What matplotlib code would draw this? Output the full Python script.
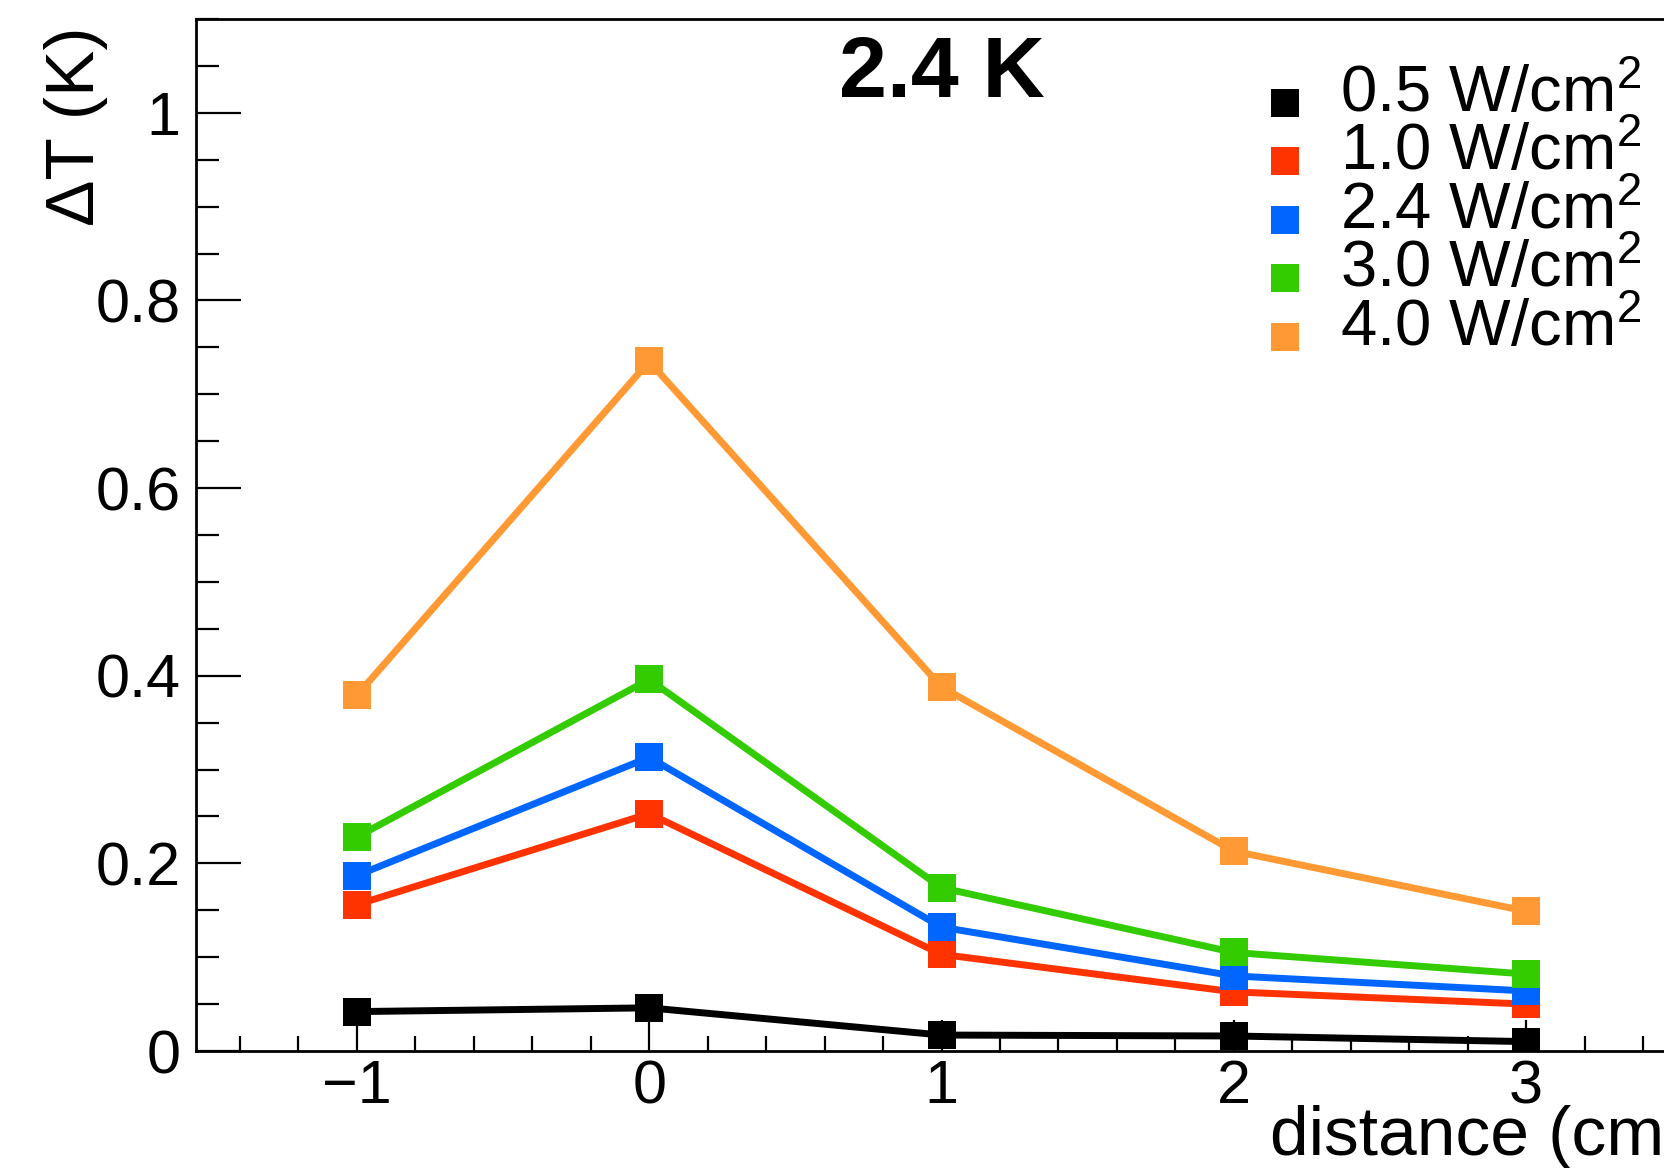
import numpy as np
import matplotlib.pyplot as plt
from matplotlib.lines import Line2D
from matplotlib.legend_handler import HandlerLine2D
from matplotlib.ticker import MultipleLocator, FuncFormatter

plt.rcParams['font.family'] = ['Liberation Sans', 'DejaVu Sans']
plt.rcParams['mathtext.fontset'] = 'custom'
plt.rcParams['mathtext.rm'] = 'Liberation Sans'
plt.rcParams['mathtext.it'] = 'Liberation Sans'

# data
distance = [-1, 0, 1, 2, 3]
labels = ['0.5 W/cm$^2$', '1.0 W/cm$^2$', '2.4 W/cm$^2$', '3.0 W/cm$^2$', '4.0 W/cm$^2$']
colors = ['#000000', '#ff3300', '#0066ff', '#33cc00', '#ff9933']
dT_05 = [0.042, 0.046, 0.017, 0.016, 0.010]
dT_10 = [0.156, 0.253, 0.103, 0.063, 0.050]
dT_24 = [0.187, 0.313, 0.132, 0.080, 0.064]
dT_30 = [0.228, 0.396, 0.174, 0.105, 0.082]
dT_40 = [0.379, 0.735, 0.388, 0.213, 0.149]
series = [dT_05, dT_10, dT_24, dT_30, dT_40]


class LowMarkerHandler(HandlerLine2D):
    # ROOT's legend puts the marker a little below the text centre
    def create_artists(self, legend, orig_handle, xdescent, ydescent,
                       width, height, fontsize, trans):
        arts = super().create_artists(legend, orig_handle, xdescent, ydescent,
                                      width, height, fontsize, trans)
        for a in arts:
            a.set_ydata(np.asarray(a.get_ydata()) - 10)
        return arts


W, H = 1665, 1168
fig = plt.figure(figsize=(W / 100, H / 100), dpi=100)
# frame in pixels: left 196, right 1687 (beyond the image), top 19, bottom 1051
ax = fig.add_axes([196 / W, 117 / H, (1687 - 196) / W, (1051 - 19) / H])

for y, c in zip(series, colors):
    ax.plot(distance, y, color=c, lw=5, marker='s', ms=19.5, mew=0,
            solid_joinstyle='miter')

ax.set_xlim(-1.55, 3.55)
ax.set_ylim(0, 1.1)

ax.xaxis.set_major_locator(MultipleLocator(1))
ax.xaxis.set_minor_locator(MultipleLocator(0.2))
ax.yaxis.set_major_locator(MultipleLocator(0.2))
ax.yaxis.set_minor_locator(MultipleLocator(0.05))
ax.yaxis.set_major_formatter(FuncFormatter(lambda v, p: f'{v:g}'))
ax.xaxis.set_major_formatter(FuncFormatter(lambda v, p: f'{v:g}'.replace('-', '\u2212')))

for s in ax.spines.values():
    s.set_linewidth(2)
ax.tick_params(axis='both', which='both', direction='in', width=1.6,
               labelsize=44, top=False, right=False)
ax.tick_params(axis='y', which='major', length=32.5, pad=11)
ax.tick_params(axis='y', which='minor', length=16.5)
ax.tick_params(axis='x', which='major', length=22.5, pad=6)
ax.tick_params(axis='x', which='minor', length=11)

ax.set_ylabel('\u0394T (K)', fontsize=50, ha='right')
ax.yaxis.set_label_coords(-0.059, 1 - 8 / 1032)
ax.set_xlabel('distance (cm)', fontsize=50, ha='right')
ax.xaxis.set_label_coords(1.0, -0.052)

fig.text(942 / W, 1 - 97 / H, '2.4 K', ha='center', va='baseline',
         fontsize=62, fontweight='bold')

handles = [Line2D([], [], ls='none', marker='s', ms=19.5, mew=0, color=c)
           for c in colors]
ax.legend(handles, labels, loc='upper left', bbox_to_anchor=(1265 / W, 1 - 64 / H),
          bbox_transform=fig.transFigure, frameon=False, fontsize=47,
          labelspacing=-0.04, handlelength=0.6, handletextpad=0.55,
          borderpad=0, borderaxespad=0,
          handler_map={Line2D: LowMarkerHandler()})

fig.savefig('out.png', dpi=100)
